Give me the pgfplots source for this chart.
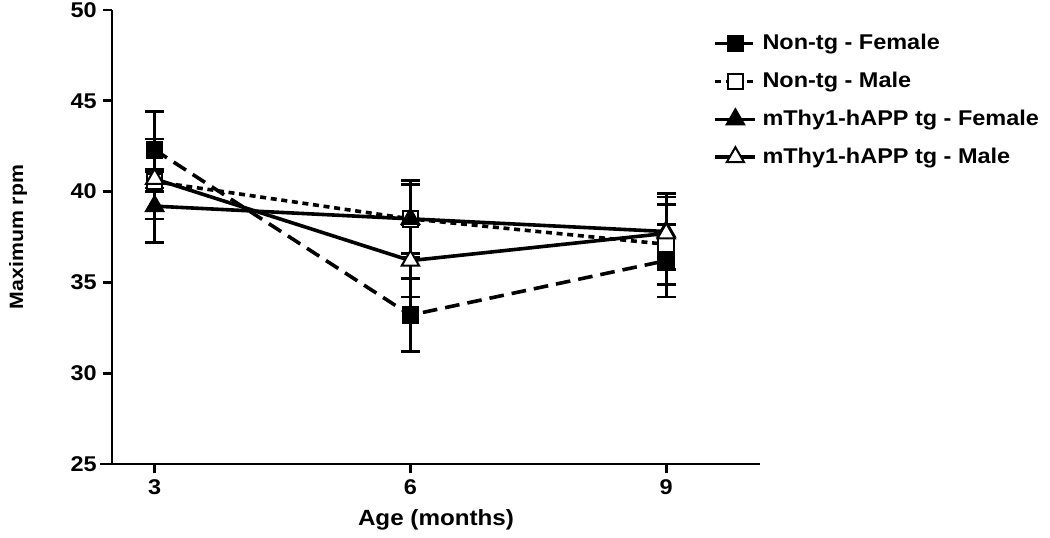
\documentclass[border=0pt]{standalone}
\usepackage{pgfplots}
\pgfplotsset{compat=1.18}
\usepackage{fontspec}
\setmainfont{Liberation Sans}[FakeStretch=1.1]
\begin{document}
\begin{tikzpicture}
\useasboundingbox (0,0) rectangle (787.5pt,402.75pt);
\begin{axis}[
  at={(84pt,54.75pt)}, anchor=south west,
  scale only axis, width=486pt, height=340.5pt,
  xmin=2.5, xmax=10.1, ymin=25, ymax=50,
  axis lines=left,
  axis line style={line width=2.2pt, -},
  xtick={3,6,9}, ytick={25,30,35,40,45,50},
  tick style={line width=2pt, black},
  tick align=outside, major tick length=7pt,
  /pgf/number format/assume math mode=true,
  tick label style={font=\bfseries\fontsize{16}{16}\selectfont},
  xticklabel style={yshift=-1pt},
  yticklabel style={xshift=-1pt},
  xlabel={\bfseries Age (months)},
  ylabel={\bfseries Maximum rpm},
  xlabel style={font=\bfseries\fontsize{16.5}{16.5}\selectfont, at={(axis description cs:0.5,-0.124)}, anchor=center},
  ylabel style={font=\bfseries\fontsize{14.5}{14.5}\selectfont, at={(axis description cs:-0.145,0.5)}, anchor=center},
  clip=false,
  legend style={at={(0.928,0.953)}, anchor=north west, draw=none, fill=none,
    font=\bfseries\fontsize{16}{16}\selectfont, inner sep=0pt,
    row sep=10.4pt, column sep=3pt, cells={anchor=west},
    nodes={inner sep=1pt, text height=12.5pt, text depth=3.5pt}},
  legend image code/.code={\draw[mark repeat=2,mark phase=2,#1] plot coordinates {(0pt,0pt) (15pt,0pt) (30pt,0pt)};},
  every axis plot/.append style={line width=2.7pt, black},
  error bars/y dir=both, error bars/y explicit,
  error bars/error bar style={line width=2pt, solid},
  error bars/error mark options={line width=2pt, mark size=7pt, solid, rotate=90},
]
\draw[line width=2.2pt] (rel axis cs:-0.018,0) -- (rel axis cs:0,0);
\addplot[dash pattern=on 11pt off 6pt, mark=square*, mark size=5.8pt, mark options={solid, line width=1.5pt, fill=black}]
  coordinates {(3,42.3) +- (0,2.1) (6,33.2) +- (0,2.0) (9,36.2) +- (0,2.0)};
\addlegendentry{Non-tg - Female}
\addplot[dash pattern=on 4.5pt off 3.5pt, mark=square*, mark size=5.8pt, mark options={solid, line width=1.5pt, fill=white}]
  coordinates {(3,40.55) +- (0,0.55) (6,38.5) +- (0,2.1) (9,37.1) +- (0,2.2)};
\addlegendentry{Non-tg - Male}
\addplot[solid, mark=triangle*, mark size=7.5pt, mark options={solid, line width=1.5pt, fill=black}]
  coordinates {(3,39.2) +- (0,2.0) (6,38.5) +- (0,1.9) (9,37.8) +- (0,2.1)};
\addlegendentry{mThy1-hAPP tg - Female}
\addplot[solid, mark=triangle*, mark size=7.5pt, mark options={solid, line width=1.5pt, fill=white}]
  coordinates {(3,40.7) +- (0,2.2) (6,36.2) +- (0,2.0) (9,37.7) +- (0,2.0)};
\addlegendentry{mThy1-hAPP tg - Male}
\end{axis}
\end{tikzpicture}
\end{document}
